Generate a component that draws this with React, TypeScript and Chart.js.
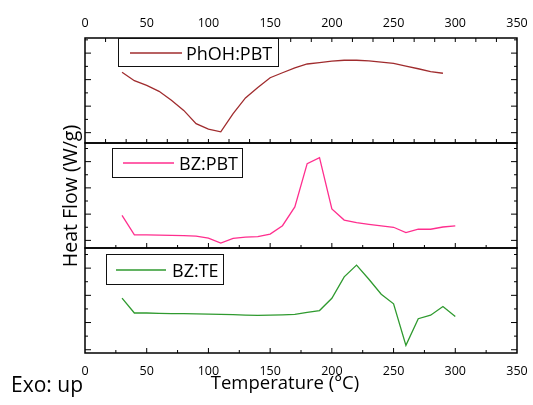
import React, { useEffect, useRef } from "react";
import { Chart, registerables } from "chart.js";

Chart.register(...registerables);

// ---------- data ----------
const xTickLabels = [0, 50, 100, 150, 200, 250, 300, 350];

const phohX = [30, 40, 50, 60, 70, 80, 90, 100, 110, 120, 130, 140, 150, 160, 170, 180, 190, 200, 210, 220, 230, 240, 250, 260, 270, 280, 290];
const phohY = [2.28, 1.96, 1.78, 1.56, 1.22, 0.84, 0.34, 0.13, 0.03, 0.72, 1.31, 1.70, 2.07, 2.26, 2.44, 2.59, 2.64, 2.70, 2.73, 2.73, 2.71, 2.66, 2.61, 2.51, 2.41, 2.30, 2.24];

const bzpbtX = [30, 40, 50, 60, 70, 80, 90, 100, 110, 120, 130, 140, 150, 160, 170, 180, 190, 200, 210, 220, 230, 240, 250, 260, 270, 280, 290, 300];
const bzpbtY = [0.95, 0.21, 0.21, 0.2, 0.19, 0.18, 0.16, 0.09, -0.1, 0.075, 0.125, 0.14, 0.24, 0.56, 1.275, 2.925, 3.15, 1.2, 0.775, 0.675, 0.61, 0.55, 0.5, 0.3, 0.425, 0.425, 0.51, 0.55];

const bzteX = [30, 40, 50, 60, 70, 80, 90, 100, 110, 120, 130, 140, 150, 160, 170, 180, 190, 200, 210, 220, 230, 240, 250, 260, 270, 280, 290, 300];
const bzteY = [1.9, 1.35, 1.35, 1.34, 1.33, 1.33, 1.32, 1.31, 1.3, 1.29, 1.27, 1.26, 1.27, 1.28, 1.3, 1.37, 1.44, 1.89, 2.68, 3.11, 2.59, 2.04, 1.69, 0.16, 1.14, 1.27, 1.59, 1.22];

const seriesNames = ["PhOH:PBT", "BZ:PBT", "BZ:TE"];
const seriesColors = ["#a02c2e", "#ff2e8e", "#2f9a2f"];

const yTickValues = [0, 0.5, 1, 1.5, 2, 2.5, 3, 3.5];

// ---------- layout / style ----------
const FONT = "'Open Sans', 'DejaVu Sans', sans-serif";
const panelRanges = [
  { id: "yTop", min: -0.39, max: 3.57, weight: 3 },
  { id: "yMid", min: -0.29, max: 3.71, weight: 2 },
  { id: "yBot", min: -0.12, max: 3.74, weight: 1 },
];
const legendBoxes = [
  { x: 118, y: 38, w: 160, h: 28, l1: 130, l2: 182, tx: 186, ly: 53 },
  { x: 112, y: 148, w: 130, h: 29, l1: 123, l2: 174, tx: 179, ly: 163 },
  { x: 106, y: 254, w: 117, h: 30, l1: 116, l2: 166, tx: 172, ly: 270 },
];

function stepsBetween(step: number, max: number) {
  const out: number[] = [];
  for (let k = 1; k * step < max - 1e-6; k++) out.push(k * step);
  return out;
}

const decorPlugin = {
  id: "decor",
  afterDatasetsDraw(chart: any) {
    const ctx: CanvasRenderingContext2D = chart.ctx;
    const xs = chart.scales.x;
    const left = xs.left;
    const right = xs.right;
    const ys = panelRanges.map((p) => chart.scales[p.id]);
    ctx.save();
    ctx.strokeStyle = "#000";
    ctx.lineWidth = 1;
    const seg = (x1: number, y1: number, x2: number, y2: number) => {
      ctx.beginPath();
      ctx.moveTo(x1, y1);
      ctx.lineTo(x2, y2);
      ctx.stroke();
    };
    // y ticks (inward both sides)
    ys.forEach((sc: any) => {
      yTickValues.forEach((v) => {
        const py = sc.getPixelForValue(v);
        const len = Number.isInteger(v) ? 6 : 3;
        seg(left, py, left + len, py);
        seg(right, py, right - len, py);
      });
    });
    // x ticks on panel edges
    const third = stepsBetween(50 / 3, 350);
    const quarter = stepsBetween(25, 350);
    third.forEach((v) => {
      const px = xs.getPixelForValue(v);
      seg(px, ys[0].top, px, ys[0].top + 4);
      seg(px, ys[0].bottom, px, ys[0].bottom - 4);
    });
    quarter.forEach((v) => {
      const px = xs.getPixelForValue(v);
      const len = v % 50 === 0 ? 5 : 3;
      seg(px, ys[1].bottom, px, ys[1].bottom - len);
      seg(px, ys[2].bottom, px, ys[2].bottom - len);
    });
    // panel frames
    ctx.lineWidth = 1.5;
    ys.forEach((sc: any) => {
      ctx.strokeRect(left, sc.top, right - left, sc.bottom - sc.top);
    });
    // legends
    legendBoxes.forEach((b, i) => {
      ctx.fillStyle = "#fff";
      ctx.fillRect(b.x, b.y, b.w, b.h);
      ctx.lineWidth = 1;
      ctx.strokeStyle = "#111";
      ctx.strokeRect(b.x + 0.5, b.y + 0.5, b.w, b.h);
      ctx.strokeStyle = seriesColors[i];
      ctx.lineWidth = 1.3;
      seg(b.l1, b.ly, b.l2, b.ly);
      ctx.fillStyle = "#000";
      ctx.font = `18px ${FONT}`;
      ctx.textAlign = "left";
      ctx.textBaseline = "middle";
      ctx.fillText(seriesNames[i], b.tx, b.ly + 1.5);
    });
    // x tick labels top and bottom
    ctx.fillStyle = "#000";
    ctx.font = `12.5px ${FONT}`;
    ctx.textAlign = "center";
    ctx.textBaseline = "alphabetic";
    xTickLabels.forEach((v) => {
      const px = xs.getPixelForValue(v);
      ctx.fillText(String(v), px, 27);
      ctx.fillText(String(v), px, 375);
    });
    // titles
    ctx.font = `18.5px ${FONT}`;
    ctx.fillText("Temperature (°C)", 285, 389);
    ctx.textAlign = "left";
    ctx.font = `21px ${FONT}`;
    ctx.fillText("Exo: up", 11, 392);
    ctx.save();
    ctx.translate(77, 196);
    ctx.rotate(-Math.PI / 2);
    ctx.textAlign = "center";
    ctx.font = `19.5px ${FONT}`;
    ctx.fillText("Heat Flow (W/g)", 0, 0);
    ctx.restore();
    ctx.restore();
  },
};

function hiddenAxis(extra: any) {
  return {
    display: true,
    grid: { display: false, drawTicks: false },
    border: { display: false },
    ticks: { display: false },
    ...extra,
  };
}

export default function App() {
  const ref = useRef<HTMLCanvasElement>(null);
  useEffect(() => {
    document.body.style.margin = "0";
    const mk = (xv: number[], yv: number[]) => xv.map((x, i) => ({ x, y: yv[i] }));
    const scales: any = {
      x: hiddenAxis({ type: "linear", position: "bottom", min: 0, max: 350 }),
    };
    // defined bottom-first so the last (top) panel is placed on top
    [...panelRanges].reverse().forEach((p) => {
      scales[p.id] = hiddenAxis({
        type: "linear",
        position: "left",
        stack: "panels",
        stackWeight: 1,
        weight: p.weight,
        min: p.min,
        max: p.max,
      });
    });
    const chart = new Chart(ref.current!, {
      type: "line",
      data: {
        datasets: [
          { label: seriesNames[0], data: mk(phohX, phohY), yAxisID: "yTop" },
          { label: seriesNames[1], data: mk(bzpbtX, bzpbtY), yAxisID: "yMid" },
          { label: seriesNames[2], data: mk(bzteX, bzteY), yAxisID: "yBot" },
        ].map((d, i) => ({
          ...d,
          borderColor: seriesColors[i],
          backgroundColor: seriesColors[i],
          borderWidth: 1.3,
          pointRadius: 0,
          tension: 0,
          fill: false,
        })),
      },
      options: {
        animation: false,
        responsive: false,
        devicePixelRatio: 1,
        layout: { padding: { left: 85, right: 16, top: 38, bottom: 52 } },
        plugins: { legend: { display: false }, tooltip: { enabled: false } },
        scales,
      },
      plugins: [decorPlugin],
    });
    return () => chart.destroy();
  }, []);
  return (
    <div style={{ width: 533, height: 405 }}>
      <canvas ref={ref} width={533} height={405} style={{ display: "block" }} />
    </div>
  );
}
